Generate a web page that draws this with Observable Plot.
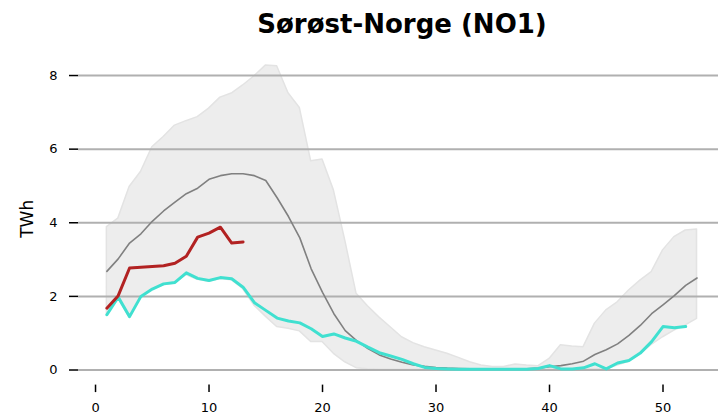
<!DOCTYPE html>
<html><head><meta charset="utf-8">
<script src="https://cdn.jsdelivr.net/npm/d3@7"></script>
<script src="https://cdn.jsdelivr.net/npm/@observablehq/plot@0.6"></script>
<style>
body{margin:0;background:#fff;font-family:"DejaVu Sans",sans-serif;}
#title{height:44px;line-height:48px;text-align:center;font-weight:bold;font-size:26px;padding-left:86px;box-sizing:border-box;color:#000;white-space:nowrap;}
</style></head><body>
<div id="title">Sørøst-Norge (NO1)</div>
<div id="chart"></div>
<script>
const weeks = d3.range(1, 54);
const upper = [3.88,4.11,4.97,5.38,6.05,6.33,6.64,6.76,6.87,7.10,7.40,7.51,7.73,7.98,8.27,8.25,7.52,7.12,5.67,5.72,4.88,3.52,2.07,1.73,1.43,1.16,0.89,0.73,0.62,0.53,0.44,0.33,0.21,0.12,0.08,0.08,0.15,0.12,0.10,0.30,0.67,0.64,0.62,1.26,1.62,1.84,2.16,2.43,2.66,3.25,3.61,3.79,3.82];
const lower = [1.48,1.95,1.42,1.97,2.17,2.30,2.35,2.58,2.45,2.40,2.47,2.44,2.20,1.75,1.45,1.17,1.12,1.05,0.76,0.76,0.44,0.21,0.05,0.02,0.01,0.01,0.01,0.01,0.01,0.01,0.01,0.01,0.01,0.01,0.01,0.01,0.01,0.01,0.01,0.02,0.02,0.02,0.02,0.02,0.02,0.12,0.22,0.42,0.68,0.89,1.07,1.21,1.39];
const median = [2.68,3.02,3.45,3.70,4.04,4.32,4.56,4.79,4.94,5.18,5.28,5.33,5.33,5.28,5.15,4.68,4.17,3.59,2.75,2.11,1.53,1.07,0.80,0.58,0.41,0.30,0.21,0.14,0.10,0.07,0.05,0.04,0.03,0.02,0.02,0.02,0.02,0.03,0.05,0.09,0.12,0.17,0.24,0.42,0.55,0.71,0.94,1.21,1.53,1.77,2.02,2.30,2.50];
const lastYear = [1.50,1.98,1.45,2.00,2.20,2.34,2.38,2.64,2.49,2.43,2.51,2.48,2.25,1.83,1.62,1.41,1.33,1.28,1.12,0.91,0.98,0.87,0.78,0.62,0.47,0.38,0.29,0.17,0.07,0.04,0.03,0.02,0.02,0.02,0.02,0.02,0.02,0.02,0.04,0.12,0.03,0.03,0.06,0.17,0.03,0.19,0.26,0.46,0.77,1.18,1.15,1.18];
const thisYear = [1.68,2.02,2.77,2.79,2.81,2.83,2.90,3.09,3.61,3.72,3.88,3.45,3.48];
const yTicks = [0,2,4,6,8];
const xTicks = [0,10,20,30,40,50];

const band = weeks.map((w,i)=>({w, lo: lower[i], hi: upper[i], med: median[i]}));
const ly = lastYear.map((v,i)=>({w: i+1, v}));
const ty = thisYear.map((v,i)=>({w: i+1, v}));

const chart = Plot.plot({
  width: 718, height: 372,
  marginLeft: 78, marginRight: 0, marginTop: 6, marginBottom: 31.4,
  style: {fontFamily: "DejaVu Sans, sans-serif", fontSize: "13px", color: "#000", background: "#fff"},
  x: {domain: [-1.5, 54.89]},
  y: {domain: [-0.41, 8.68]},
  marks: [
    Plot.areaY(band, {x: "w", y1: "lo", y2: "hi", fill: "#ededed", stroke: "#e3e3e3", strokeWidth: 1.5}),
    Plot.ruleY(yTicks, {stroke: "#b0b0b0", strokeWidth: 2}),
    Plot.lineY(band, {x: "w", y: "med", stroke: "#808080", strokeWidth: 1.6}),
    Plot.lineY(ly, {x: "w", y: "v", stroke: "#40e0d0", strokeWidth: 3}),
    Plot.lineY(ty, {x: "w", y: "v", stroke: "#b22222", strokeWidth: 3}),
    Plot.axisY({ticks: yTicks, tickSize: 9, tickPadding: 12, label: null, stroke: "#000", strokeWidth: 1.5, fontSize: 13}),
    Plot.axisX({ticks: xTicks, tickSize: 7.5, tickPadding: 10, label: null, stroke: "#000", strokeWidth: 1.5, fontSize: 13}),
    Plot.text(["TWh"], {frameAnchor: "left", dx: -51, dy: 20, rotate: -90, fontSize: 17, fill: "#000"})
  ]
});
document.getElementById("chart").appendChild(chart);
</script></body></html>
